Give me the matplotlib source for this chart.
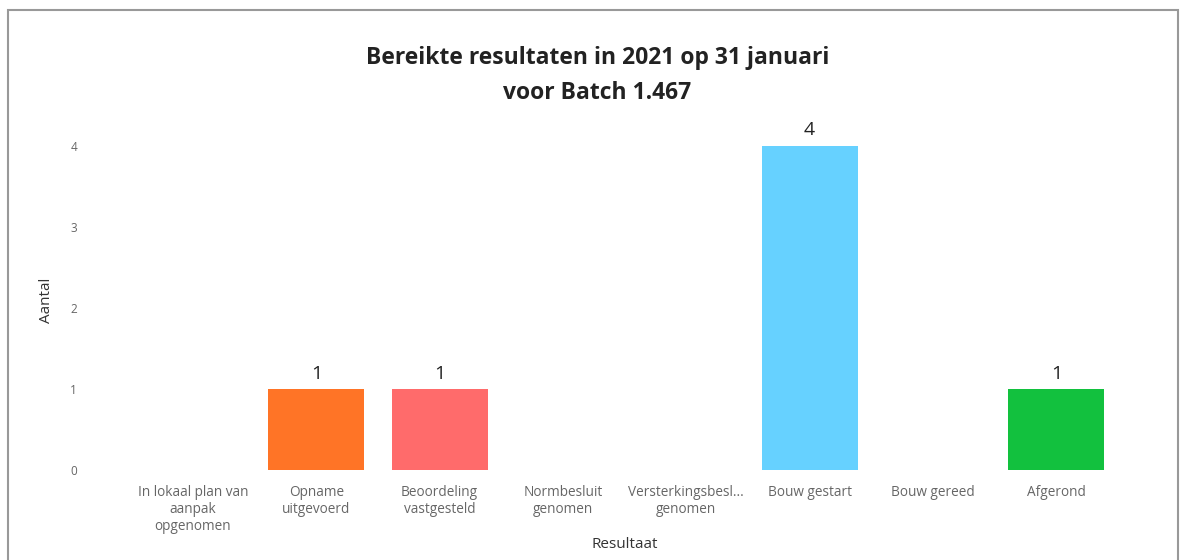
import matplotlib.pyplot as plt
from matplotlib.patches import Rectangle

plt.rcParams['font.family'] = ['Open Sans', 'DejaVu Sans']

categories = ['In lokaal plan van\naanpak\nopgenomen', 'Opname\nuitgevoerd', 'Beoordeling\nvastgesteld',
              'Normbesluit\ngenomen', 'Versterkingsbesl...\ngenomen', 'Bouw gestart',
              'Bouw gereed', 'Afgerond']
values = [0, 1, 1, 0, 0, 4, 0, 1]
colors = ['#cccccc', '#FF7426', '#FF6B6B', '#cccccc', '#cccccc', '#66D1FF', '#cccccc', '#12C13E']

fig = plt.figure(figsize=(11.83, 5.6), dpi=100)
ax = fig.add_axes([0.111, 0.143, 0.834, 0.64])

xs = list(range(len(categories)))
bars = ax.bar(xs, values, width=0.78, color=colors)
for x, v in zip(xs, values):
    if v > 0:
        ax.text(x, v + 0.08, str(v), ha='center', va='bottom', fontsize=14, color='#222222')

ax.set_xlim(-0.5, len(categories) - 0.5)
ax.set_ylim(-0.12, 4.3)
ax.set_yticks([0, 1, 2, 3, 4])
ax.set_xticks(xs)
ax.set_xticklabels(categories, fontsize=9.8, color='#666666', linespacing=1.15)
ax.tick_params(axis='y', length=0, pad=39, labelsize=8.5, labelcolor='#666666')
ax.tick_params(axis='x', length=0, pad=4)
for s in ax.spines.values():
    s.set_visible(False)

ax.set_ylabel('Aantal', fontsize=11, color='#333333')
ax.yaxis.set_label_coords(-0.078, 0.5)
ax.set_xlabel('Resultaat', fontsize=11, color='#333333')
ax.xaxis.set_label_coords(0.5, -0.158)

fig.text(0.505, 0.865, 'Bereikte resultaten in 2021 op 31 januari\nvoor Batch 1.467', ha='center', va='center',
         fontsize=16.5, fontweight='bold', color='#222222', linespacing=1.6)

fig.patches.append(Rectangle((0.007, -0.01), 0.989, 0.992, transform=fig.transFigure,
                             fill=False, edgecolor='#999999', linewidth=1.5))

fig.savefig('out.png', dpi=100)
